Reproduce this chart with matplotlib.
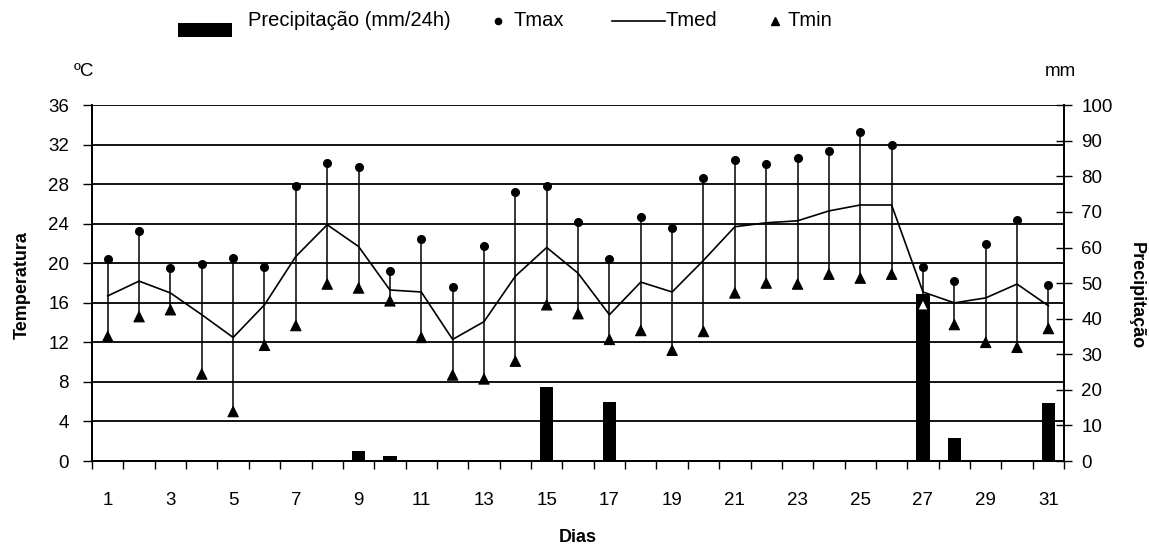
import numpy as np
import matplotlib
matplotlib.use("Agg")
import matplotlib.pyplot as plt
from matplotlib.lines import Line2D
from matplotlib.patches import Rectangle

plt.rcParams['font.family'] = ['Liberation Sans', 'DejaVu Sans']

days = np.arange(1, 32)
tmax = [20.4, 23.3, 19.5, 19.9, 20.5, 19.6, 27.8, 30.1, 29.7, 19.2,
        22.5, 17.6, 21.8, 27.2, 27.8, 24.2, 20.4, 24.7, 23.6, 28.6,
        30.5, 30.0, 30.7, 31.4, 33.3, 32.0, 19.6, 18.2, 22.0, 24.4, 17.8]
tmed = [16.7, 18.2, 17.0, 14.8, 12.5, 15.8, 20.7, 23.9, 21.7, 17.3,
        17.1, 12.3, 14.1, 18.7, 21.6, 19.0, 14.8, 18.1, 17.1, 20.3,
        23.7, 24.1, 24.3, 25.3, 25.9, 25.9, 17.1, 16.0, 16.5, 17.9, 15.7]
tmin = [12.6, 14.6, 15.3, 8.8, 5.0, 11.7, 13.7, 17.9, 17.5, 16.2,
        12.5, 8.7, 8.3, 10.1, 15.8, 14.9, 12.3, 13.2, 11.2, 13.1,
        17.0, 18.0, 17.9, 18.9, 18.5, 18.9, 15.8, 13.8, 12.0, 11.5, 13.4]
precip = [0, 0, 0, 0, 0, 0, 0, 0, 2.9, 1.5,
          0, 0, 0, 0, 20.8, 0, 16.5, 0, 0, 0,
          0, 0, 0, 0, 0, 0, 47.0, 6.4, 0, 0, 16.4]

W, H = 1149, 550
fig = plt.figure(figsize=(W / 100, H / 100), dpi=100)
ax = fig.add_axes([0.0801, 0.1618, 0.8460, 0.647])
ax2 = ax.twinx()
ax.set_zorder(ax2.get_zorder() + 1)
ax.patch.set_visible(False)

# precipitation bars (right axis)
ax2.bar(days, precip, width=0.42, color='black')
ax2.set_ylim(0, 100)
ax2.set_yticks(np.arange(0, 101, 10))
ax2.tick_params(axis='y', direction='inout', length=11, width=1, pad=7, labelsize=13.5)

# temperature (left axis)
ax.set_ylim(0, 36)
ax.set_xlim(0.5, 31.5)
ax.set_yticks(np.arange(0, 37, 4))
for v in np.arange(4, 37, 4):
    ax.axhline(v, color='black', lw=1.3, zorder=1)

ax.vlines(days, tmin, tmax, color='black', lw=1.1, zorder=2)
ax.plot(days, tmed, color='black', lw=1.2, zorder=3)
ax.plot(days, tmax, 'o', color='black', ms=5.5, zorder=4)
tmin_face = ['black'] * len(days)
tmin_face[26] = 'white'  # marker sits on the black bar of day 27
ax.scatter(days, tmin, marker='^', s=55, c=tmin_face, edgecolors='black',
           linewidths=0.8, zorder=4)

ax.set_xticks(days[::2])
ax.set_xticks(np.arange(0.5, 32, 1), minor=True)
ax.tick_params(axis='x', which='major', length=0, pad=22, labelsize=13.5)
ax.tick_params(axis='x', which='minor', direction='out', length=6, width=1)
ax.tick_params(axis='y', direction='out', length=6.5, width=1, pad=10, labelsize=13.5)

for a in (ax, ax2):
    for s in a.spines.values():
        s.set_linewidth(1.3)
ax2.spines['top'].set_visible(False)
ax.spines['top'].set_visible(False)

# labels
fig.text(22 / W, 1 - 285 / H, 'Temperatura', rotation=90, ha='center', va='center',
         fontsize=13, fontweight='bold')
fig.text(1136 / W, 1 - 296 / H, 'Precipitação', rotation=270, ha='center', va='center',
         fontsize=13, fontweight='bold')
fig.text(578 / W, 1 - 538 / H, 'Dias', ha='center', va='center',
         fontsize=13, fontweight='bold')
fig.text(84 / W, 1 - 72 / H, 'ºC', ha='center', va='center', fontsize=13.5)
fig.text(1060 / W, 1 - 72 / H, 'mm', ha='center', va='center', fontsize=13.5)

# legend, laid out by hand along the top
ly = 1 - 21 / H
fig.patches.append(Rectangle((178 / W, 1 - 37 / H), 54 / W, 14 / H, facecolor='black',
                             transform=fig.transFigure, figure=fig))
fig.text(248 / W, ly, 'Precipitação (mm/24h)', ha='left', va='center', fontsize=14.5)
fig.add_artist(Line2D([498 / W], [ly], marker='o', color='black', ms=4.5,
                      transform=fig.transFigure))
fig.text(513 / W, ly, 'Tmax', ha='left', va='center', fontsize=14.5)
fig.add_artist(Line2D([612 / W, 665 / W], [ly, ly], color='black', lw=1.2,
                      transform=fig.transFigure))
fig.text(665 / W, ly, 'Tmed', ha='left', va='center', fontsize=14.5)
fig.add_artist(Line2D([775 / W], [ly], marker='^', color='black', ms=5.5,
                      transform=fig.transFigure))
fig.text(788 / W, ly, 'Tmin', ha='left', va='center', fontsize=14.5)

fig.savefig('out.png', dpi=100)
